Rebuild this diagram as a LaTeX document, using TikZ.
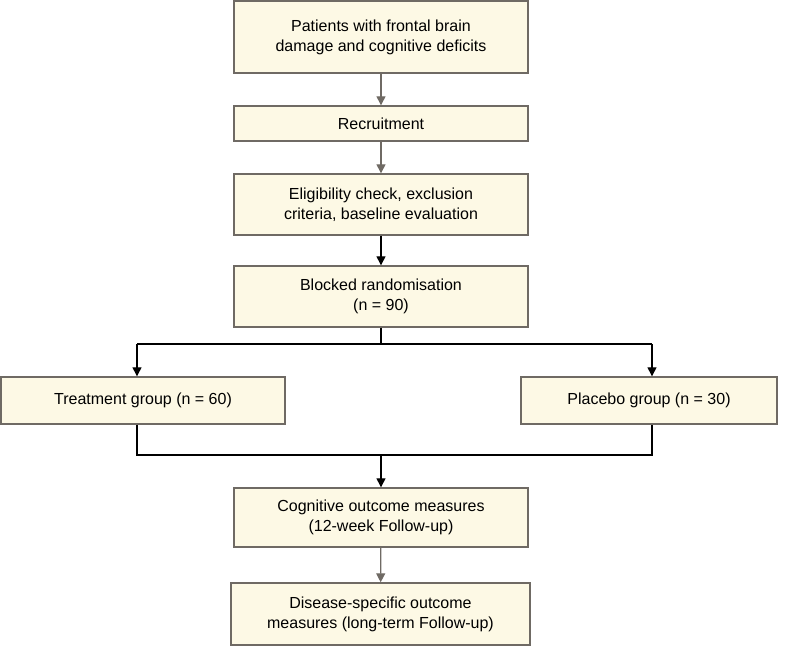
\documentclass[tikz,border=0pt]{standalone}
\usepackage{fontspec}
\setmainfont{Liberation Sans}
\usetikzlibrary{arrows.meta}
\definecolor{boxfill}{HTML}{FDF9E5}
\definecolor{boxline}{HTML}{6F6A64}
\definecolor{garrow}{HTML}{6F6A64}
\begin{document}
\begin{tikzpicture}[x=1pt,y=-1pt,
  box/.style={draw=boxline,fill=boxfill,line width=1.4pt,align=center,inner sep=0pt,
    font=\fontsize{16}{20}\selectfont},
  ga/.style={draw=garrow,line width=1.3pt,-{Triangle[length=9pt,width=9pt]}},
  ba/.style={draw=black,line width=1.3pt,-{Triangle[length=9pt,width=9pt]}},
  bl/.style={draw=black,line width=1.3pt}]
\useasboundingbox (0,0) rectangle (785,654);
\node[box,minimum width=294pt,minimum height=72pt] (p) at (381,37) {Patients with frontal brain\\damage and cognitive deficits};
\node[box,minimum width=294pt,minimum height=35pt] (r) at (381,123.5) {Recruitment};
\node[box,minimum width=294pt,minimum height=61pt] (e) at (381,204.5) {Eligibility check, exclusion\\criteria, baseline evaluation};
\node[box,minimum width=294pt,minimum height=61pt] (b) at (381,296.5) {Blocked randomisation\\(n = 90)};
\node[box,minimum width=284pt,minimum height=47pt] (t) at (143,400.5) {Treatment group (n = 60)};
\node[box,minimum width=256pt,minimum height=47pt] (pl) at (649,400.5) {Placebo group (n = 30)};
\node[box,minimum width=294pt,minimum height=59pt] (c) at (381,517.5) {Cognitive outcome measures\\(12-week Follow-up)};
\node[box,minimum width=299pt,minimum height=62pt] (d) at (380.5,614) {Disease-specific outcome\\measures (long-term Follow-up)};
\coordinate (s) at (381,344);
\coordinate (sl) at (137,344);
\coordinate (sr) at (652,344);
\coordinate (jl) at (137,455);
\coordinate (jr) at (652,455);
\coordinate (jm) at (381,455);
\draw[ga] (p) -- (r);
\draw[ga] (r) -- (e);
\draw[ba] (e) -- (b);
\draw[bl] (b.south) -- (s);
\draw[bl] (sl) -- (sr);
\draw[ba] (sl) -- (sl |- t.north);
\draw[ba] (sr) -- (sr |- pl.north);
\draw[bl] (sl |- t.south) -- (jl) -- (jr) -- (sr |- pl.south);
\draw[ba] (jm) -- (c.north);
\draw[ga] (c) -- (d);
\end{tikzpicture}
\end{document}
